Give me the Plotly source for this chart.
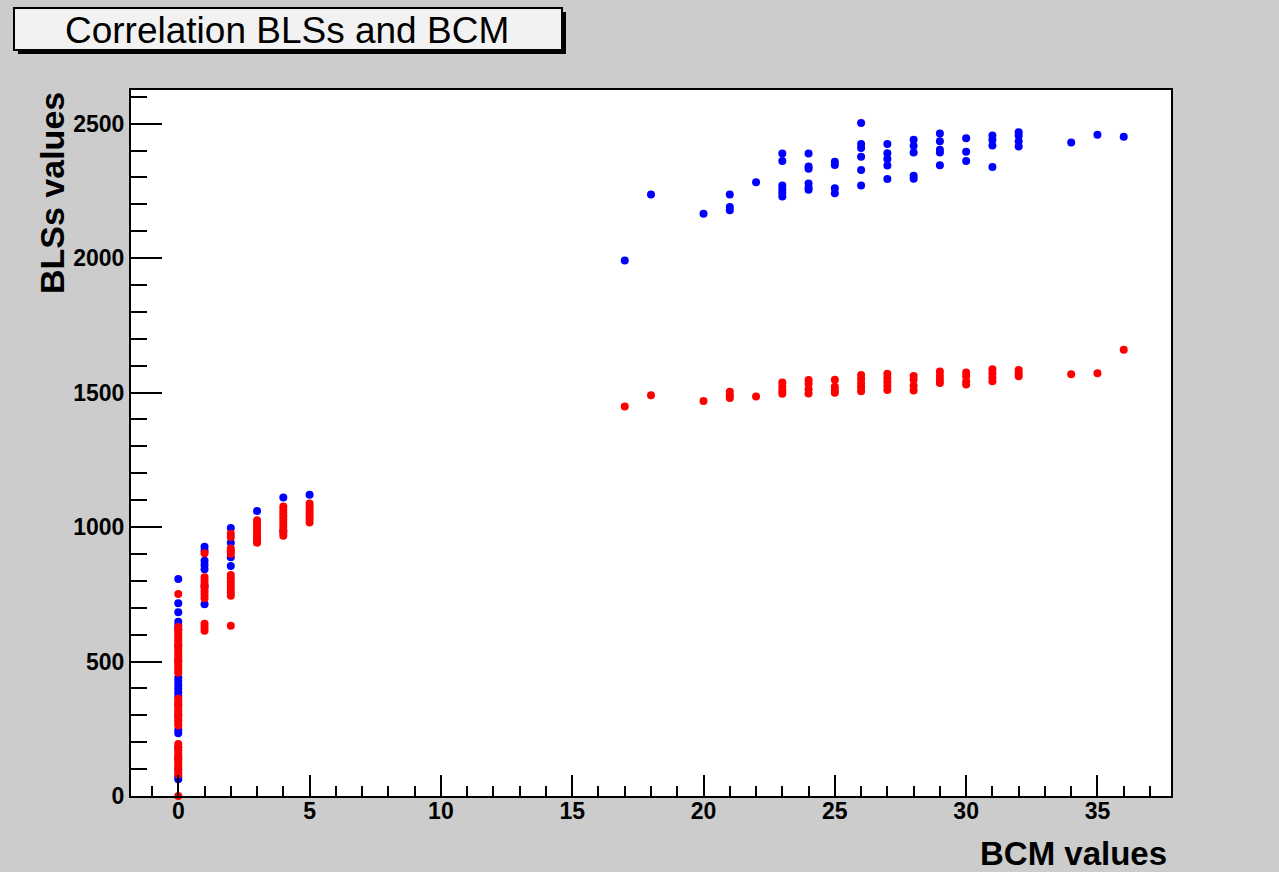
import plotly.graph_objects as go

# ---------------- data ----------------
# BCM value (x) columns and the BLSs values (y) measured at each column
blue_columns = [0, 1, 2, 3, 4, 5, 17, 18, 20, 21, 22, 23, 24, 25, 26, 27, 28, 29, 30, 31, 32, 34, 35, 36]
blue_values = [
    [62, 72, 100, 140, 180, 233, 245, 300, 340, 372, 386, 400, 414, 428, 440, 500, 560, 620, 634, 648, 683, 717, 807],
    [927, 912, 875, 860, 843, 780, 713],
    [996, 942, 888, 855],
    [1060, 950],
    [1110, 985],
    [1120],
    [1991],
    [2236],
    [2165],
    [2236, 2190, 2178],
    [2282],
    [2389, 2361, 2270, 2256, 2243, 2229],
    [2389, 2341, 2332, 2277, 2262, 2254],
    [2358, 2346, 2260, 2241],
    [2502, 2424, 2409, 2377, 2328, 2270],
    [2424, 2390, 2368, 2344, 2294],
    [2440, 2418, 2393, 2306, 2295],
    [2463, 2434, 2403, 2393, 2345],
    [2446, 2395, 2361],
    [2456, 2440, 2419, 2339],
    [2468, 2455, 2434, 2415],
    [2430],
    [2459],
    [2451],
]

red_columns = [0, 1, 2, 3, 4, 5, 17, 18, 20, 21, 22, 23, 24, 25, 26, 27, 28, 29, 30, 31, 32, 34, 35, 36]
red_values = [
    [0, 80, 90, 100, 110, 120, 130, 140, 150, 160, 170, 181, 193,
     262, 272, 282, 292, 302, 312, 322, 332, 342, 352, 362,
     458, 468, 478, 488, 498, 508, 518, 528, 538, 548, 558, 568, 578, 588, 598, 608, 618, 628, 751],
    [903, 813, 800, 787, 774, 761, 748, 735, 640, 627, 614],
    [975, 963, 920, 910, 900, 822, 808, 795, 782, 770, 757, 745, 633],
    [1025, 1012, 1000, 990, 978, 965, 955, 942],
    [1076, 1064, 1052, 1040, 1028, 1015, 1003, 990, 978, 968],
    [1088, 1076, 1064, 1052, 1040, 1028, 1017],
    [1448],
    [1490],
    [1469],
    [1503, 1490, 1480],
    [1485],
    [1537, 1522, 1508, 1496],
    [1547, 1533, 1512, 1497],
    [1548, 1522, 1510, 1499],
    [1565, 1550, 1535, 1520, 1505],
    [1570, 1555, 1540, 1525, 1510],
    [1562, 1548, 1525, 1508],
    [1578, 1563, 1548, 1536],
    [1575, 1561, 1541, 1530],
    [1587, 1572, 1556, 1542],
    [1584, 1572, 1561],
    [1568],
    [1572],
    [1659],
]

x_tick_values = [0, 5, 10, 15, 20, 25, 30, 35]
y_tick_values = [0, 500, 1000, 1500, 2000, 2500]

title_text = "Correlation BLSs and BCM"
x_title = "BCM values"
y_title = "BLSs values"


def flatten(cols, vals):
    xs, ys = [], []
    for c, v in zip(cols, vals):
        for y in v:
            xs.append(c)
            ys.append(y)
    return xs, ys


bx, by = flatten(blue_columns, blue_values)
rx, ry = flatten(red_columns, red_values)

# ---------------- layout geometry ----------------
W, H = 1279, 872
ML, MR, MT, MB = 131, 108, 90, 76
PW, PH = W - ML - MR, H - MT - MB


def px(xp):
    return (xp - ML) / PW


def py(yp):
    return (H - MB - yp) / PH


FONT = "Liberation Sans, Arial, Helvetica, sans-serif"

fig = go.Figure()
fig.add_trace(go.Scatter(x=bx, y=by, mode="markers", cliponaxis=False,
                         marker=dict(color="#0000ff", size=8, line=dict(width=0)),
                         showlegend=False, hoverinfo="x+y"))
fig.add_trace(go.Scatter(x=rx, y=ry, mode="markers", cliponaxis=False,
                         marker=dict(color="#ff0000", size=8, line=dict(width=0)),
                         showlegend=False, hoverinfo="x+y"))

axis_common = dict(showgrid=False, zeroline=False, showline=True, linecolor="black",
                   linewidth=2, mirror=True, ticks="inside", tickcolor="black", tickwidth=2,
                   tickfont=dict(family=FONT, size=23, color="black", weight="bold"))

fig.update_xaxes(range=[-1.8, 37.8], tickmode="array", tickvals=x_tick_values,
                 ticktext=[str(v) for v in x_tick_values], ticklen=21, ticklabelstandoff=-7,
                 minor=dict(dtick=1, ticks="inside", ticklen=10, tickcolor="black", tickwidth=2),
                 **axis_common)
fig.update_yaxes(range=[0, 2625], tickmode="array", tickvals=y_tick_values,
                 ticktext=[str(v) for v in y_tick_values], ticklen=31,
                 minor=dict(dtick=100, ticks="inside", ticklen=16, tickcolor="black", tickwidth=2),
                 **axis_common)

shapes = [
    # title box shadow
    dict(type="rect", xref="paper", yref="paper", x0=px(18), x1=px(566), y0=py(54), y1=py(12),
         fillcolor="black", line=dict(width=0), layer="above"),
    # title box
    dict(type="rect", xref="paper", yref="paper", x0=px(14), x1=px(562), y0=py(50), y1=py(8),
         fillcolor="#f2f2f2", line=dict(color="black", width=2), layer="above"),
]

annotations = [
    dict(text=title_text, xref="paper", yref="paper", x=px(287), y=py(30),
         xanchor="center", yanchor="middle", showarrow=False,
         font=dict(family=FONT, size=37, color="black")),
    dict(text=x_title, xref="paper", yref="paper", x=px(1169), y=py(853),
         xanchor="right", yanchor="middle", showarrow=False,
         font=dict(family=FONT, size=33, color="black", weight="bold")),
    dict(text=y_title, xref="paper", yref="paper", x=px(52), y=py(90),
         xanchor="center", yanchor="top", showarrow=False, textangle=-90,
         font=dict(family=FONT, size=34, color="black", weight="bold")),
]

fig.update_layout(width=W, height=H, margin=dict(l=ML, r=MR, t=MT, b=MB, autoexpand=False),
                  paper_bgcolor="#cccccc", plot_bgcolor="white",
                  shapes=shapes, annotations=annotations, showlegend=False)

fig.write_html("out.html", config={"displayModeBar": False},
               post_script="document.body.style.margin='0';document.body.style.overflow='hidden';")
